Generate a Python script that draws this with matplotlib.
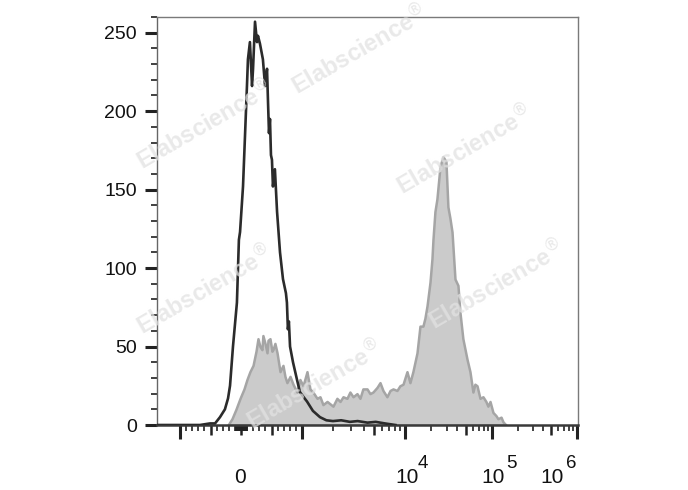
import numpy as np
import matplotlib
matplotlib.use("Agg")
import matplotlib.pyplot as plt

plt.rcParams['font.family'] = ['Liberation Sans', 'DejaVu Sans']

# histogram bins are display channels (0..256 across the axis)
black_x = [0, 26.1, 32.2, 35.3, 38.3, 41.3, 43.2, 44.4, 46.2, 48.6, 49.8, 50.5, 52.3, 53.5,
           54.7, 55.3, 56.5, 57.8, 58.4, 59.6, 60.8, 61.4, 62.6, 64.4, 65.7, 66.9, 67.5,
           68.1, 68.7, 69.3, 69.9, 70.5, 71.7, 73.0, 74.8, 76.6, 78.4, 79.0, 79.6, 80.2,
           80.9, 82.7, 85.1, 86.9, 89.0, 91.2, 94.8, 99.1, 103.0, 107.0, 112.0, 117.3,
           122.0, 128.0, 133.0, 138.6, 145.0]
black_y = [0, 0, 1, 1, 5, 10, 17, 25, 50, 78, 118, 123, 152, 184,
           216, 233, 244, 216, 227, 257, 244, 248, 243, 233, 216, 227, 206,
           186, 195, 172, 169, 152, 163, 136, 110, 93, 84, 78, 61, 66,
           50, 40, 29, 21, 18, 15, 9, 5, 3, 2.5, 3, 2,
           2.5, 1.5, 2, 1, 0]

grey_x = [43.2, 45.6, 48.0, 50.5, 52.9, 54.7, 56.5, 58.4, 60.2, 61.4, 62.6, 63.8, 64.4,
          65.7, 66.9, 67.5, 68.7, 69.9, 70.5, 71.7, 73.0, 74.8, 76.6, 77.8, 79.0, 80.9,
          82.7, 85.1, 86.9, 88.8, 91.2, 93.0, 94.8, 97.3, 99.1, 100.9, 103.4, 107.0,
          109.4, 111.3, 113.1, 115.5, 117.3, 119.2, 121.6, 123.4, 125.2, 127.7, 129.5,
          131.3, 133.8, 135.6, 137.4, 139.8, 141.7, 143.5, 145.9, 147.7, 149.6, 152.0,
          153.8, 155.6, 158.1, 159.9, 161.7, 162.9, 164.2, 166.0, 167.2, 167.8, 169.0,
          170.2, 172.1, 173.3, 173.9, 175.1, 175.7, 176.9, 178.1, 179.4, 181.2, 183.0,
          184.2, 186.0, 188.5, 190.3, 192.1, 193.3, 194.6, 196.4, 198.2, 200.0, 201.2,
          202.5, 204.3, 206.1, 207.3, 209.2, 210.4, 212.2]
grey_y = [0, 4, 10, 17, 23, 29, 34, 38, 47, 55, 50, 48, 57,
          52, 46, 54, 55, 47, 48, 52, 46, 34, 38, 31, 27, 31,
          26, 21, 29, 25, 34, 23, 21, 17, 18, 13, 15, 12,
          17, 15, 18, 17, 21, 18, 20, 17, 23, 23, 20,
          21, 24, 27, 22, 18, 22, 23, 22, 25, 26, 34,
          27, 34, 46, 63, 63, 68, 76, 91, 106, 118, 136,
          144, 165, 169, 171, 169, 168, 139, 132, 123, 93, 89,
          72, 55, 42, 34, 21, 26, 25, 17, 18, 15, 12,
          15, 8, 6, 4, 5, 2, 0]

y_major = [0, 50, 100, 150, 200, 250]
x_major_vals = [-1e3, 1e3, 1e4, 1e5, 1e6]
x_mid_vals = [-500, 0, 500, 5e3, 5e4, 5e5]
x_labels = [(0, '0', None), (1e4, '10', '4'), (1e5, '10', '5'), (1e6, '10', '6')]

T_ANCH = [-1, 0, 1, 2, 3, 4]
C_ANCH = [14.0, 51.1, 88.2, 150.8, 203.7, 255.4]


def chan(v):
    # biexponential display: linear within +-1000, log decades above
    v = np.asarray(v, float)
    a = np.abs(v)
    t = np.where(a <= 1e3, v / 1e3, np.sign(v) * (1 + np.log10(np.maximum(a, 1e3) / 1e3)))
    return np.interp(t, T_ANCH, C_ANCH)


minor_vals = []
for s in (-1, 1):
    minor_vals += [s * k for k in range(10, 100, 10)]
    minor_vals += [s * k * 100 for k in range(1, 10) if k != 5]
for dec in (1e3, 1e4, 1e5):
    minor_vals += [k * dec for k in range(2, 10) if k != 5]

fig = plt.figure(figsize=(6.88, 4.9), dpi=100)
ax = fig.add_axes([157 / 688, 65 / 490, 421 / 688, 408 / 490])

ax.fill_between(grey_x, grey_y, 0, facecolor='#cbcbcb', edgecolor='#a5a5a5', lw=1.8, zorder=2)
ax.plot(black_x, black_y, color='#2b2b2b', lw=1.9, zorder=3)

ax.set_xlim(0, 256)
ax.set_ylim(0, 260)

ax.set_yticks(y_major)
ax.set_yticks(np.arange(0, 261, 10), minor=True)
ax.tick_params(axis='y', which='major', length=8.6, width=2.2, pad=6, labelsize=14,
               color='#222222', labelcolor='#111111')
ax.tick_params(axis='y', which='minor', length=4.3, width=1.3, color='#333333')

ax.set_xticks(chan(x_major_vals))
ax.set_xticks(chan(minor_vals), minor=True)
ax.set_xticklabels([])
ax.tick_params(axis='x', which='major', length=10, width=2.2, color='#222222')
ax.tick_params(axis='x', which='minor', length=4.5, width=1.2, color='#222222')

sec = ax.secondary_xaxis('bottom')
sec.set_xticks(chan(x_mid_vals))
sec.set_xticklabels([])
sec.tick_params(length=7.5, width=1.8, color='#222222')
for sp in sec.spines.values():
    sp.set_visible(False)

ax.spines['left'].set_color('#666666')
ax.spines['left'].set_linewidth(1.0)
ax.spines['bottom'].set_color('#3a3a3a')
ax.spines['bottom'].set_linewidth(1.8)
for k in ('top', 'right'):
    ax.spines[k].set_color('#7a7a7a')
    ax.spines[k].set_linewidth(1.0)

# x labels with large exponents
offs = {0: (-0.7, None), 1e4: (1.4, 9.4), 1e5: (0.7, 10.0), 1e6: (-18.0, -8.0)}
for v, base, exp in x_labels:
    dx, ex = offs[v]
    ax.annotate(base, xy=(chan(v), 0), xycoords=('data', 'axes fraction'),
                xytext=(dx, -41.8), textcoords='offset points', ha='center', va='baseline',
                fontsize=15, color='#111111', annotation_clip=False)
    if exp:
        ax.annotate(exp, xy=(chan(v), 0), xycoords=('data', 'axes fraction'),
                    xytext=(ex, -31), textcoords='offset points', ha='left', va='baseline',
                    fontsize=13.5, color='#111111', annotation_clip=False)

# watermark
for fx, fy in [(0.482, 0.919), (0.114, 0.735), (0.732, 0.674),
               (0.114, 0.331), (0.808, 0.343), (0.375, 0.098)]:
    ax.text(fx, fy, 'Elabscience$^{®}$', transform=ax.transAxes, rotation=30,
            ha='center', va='center', fontsize=17, fontweight='bold',
            color='#e2e2e2', alpha=0.75, zorder=5, rotation_mode='anchor')

fig.savefig('out.png', dpi=100)
